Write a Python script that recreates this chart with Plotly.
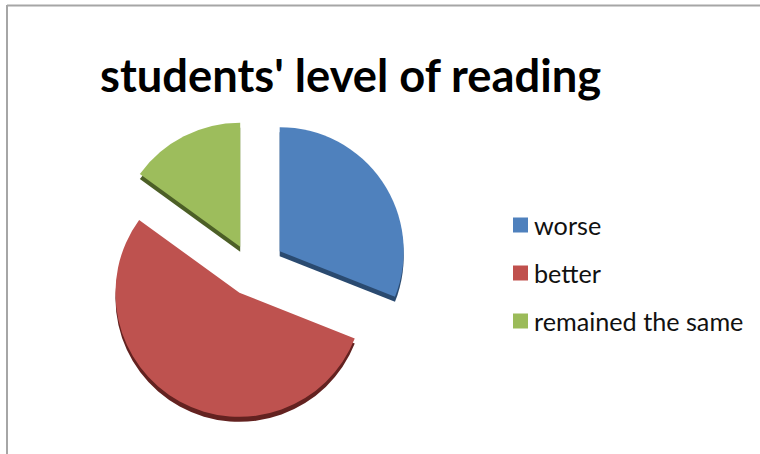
import plotly.graph_objects as go

categories = ["worse", "better", "remained the same"]
values = [31, 54, 15]
pulls = [0.27, 0.21, 0.21]
face_colors = ["#4F81BD", "#BE524F", "#9DBD5C"]
side_colors = ["#2A4A70", "#632220", "#4C5F26"]
legend_colors = ["#4F81BD", "#C0504D", "#9BBB59"]
title_text = "students' level of reading"

W, H = 760, 454
cx, cy, R = 252, 270, 157.5
depth = 5

def dom(offset):
    return dict(
        x=[(cx - R) / W, (cx + R) / W],
        y=[1 - (cy + offset + R) / H, 1 - (cy + offset - R) / H],
    )

common = dict(labels=categories, values=values, pull=pulls, sort=False,
              direction="clockwise", rotation=0, textinfo="none",
              hoverinfo="label+percent", showlegend=False)

fig = go.Figure()
fig.add_trace(go.Pie(domain=dom(depth),
                     marker=dict(colors=side_colors, line=dict(width=0)), **common))
fig.add_trace(go.Pie(domain=dom(0),
                     marker=dict(colors=face_colors, line=dict(width=0)), **common))

shapes = [
    dict(type="line", xref="paper", yref="paper", x0=7 / W, x1=1, y0=1 - 5.5 / H, y1=1 - 5.5 / H,
         line=dict(color="#A6A6A6", width=2)),
    dict(type="line", xref="paper", yref="paper", x0=7 / W, x1=7 / W, y0=0, y1=1 - 5 / H,
         line=dict(color="#A6A6A6", width=2)),
]
annotations = []
for i, (name, color) in enumerate(zip(categories, legend_colors)):
    yc = 225 + 48 * i
    shapes.append(dict(type="rect", xref="paper", yref="paper",
                       x0=513 / W, x1=528 / W, y0=1 - (yc + 7.5) / H, y1=1 - (yc - 7.5) / H,
                       fillcolor=color, line=dict(width=0)))
    annotations.append(dict(text=name, xref="paper", yref="paper", x=534 / W, y=1 - yc / H,
                            xanchor="left", yanchor="middle", showarrow=False, xshift=-2,
                            font=dict(size=25.2, color="#111111")))

fig.update_layout(
    width=W, height=H, autosize=False,
    margin=dict(l=0, r=0, t=0, b=0),
    paper_bgcolor="white", plot_bgcolor="white",
    font=dict(family="Lato, 'Open Sans', sans-serif", color="#111111"),
    title=dict(text=title_text, x=100 / W, xanchor="left", xref="paper",
               y=1 - 76 / H, yanchor="middle", yref="paper",
               font=dict(family="Lato, 'Open Sans', sans-serif", size=45.3, color="#000000", weight="bold")),
    shapes=shapes,
    annotations=annotations,
)
fig.write_html("out.html", post_script="document.body.style.margin='0';",
               config={"displayModeBar": False})
